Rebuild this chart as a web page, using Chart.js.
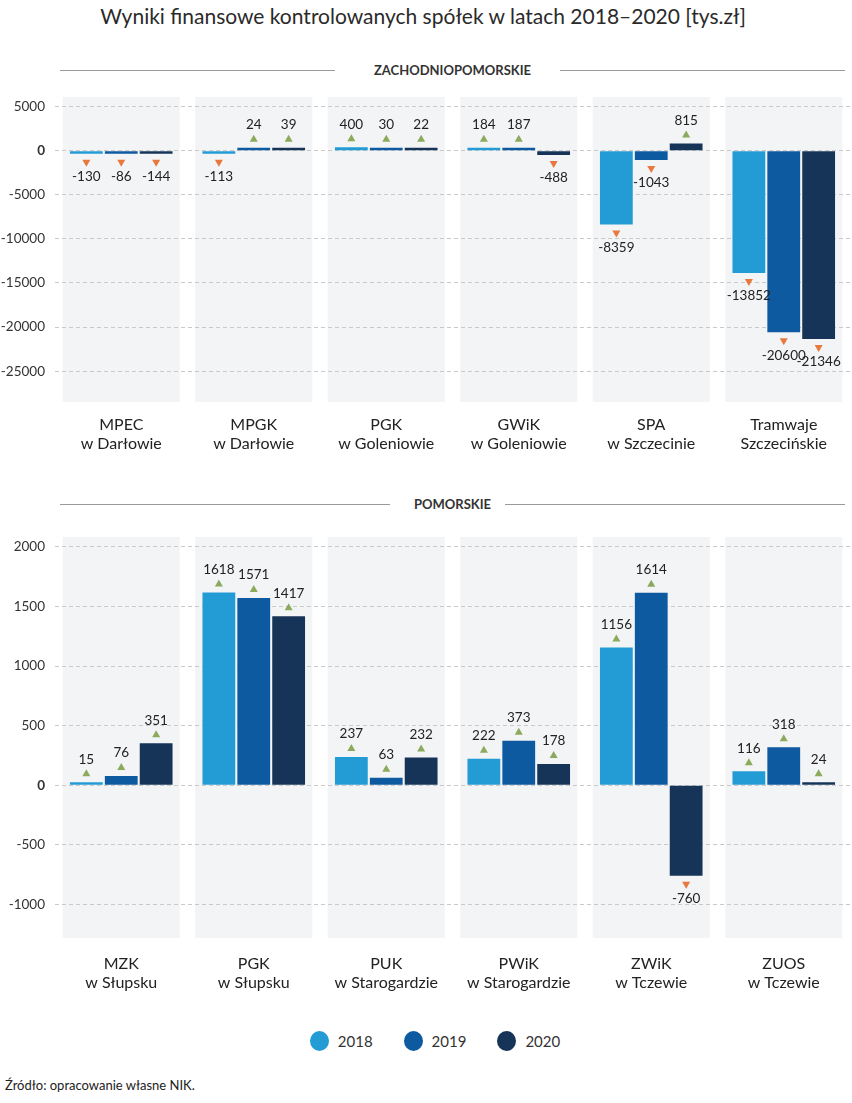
<!DOCTYPE html>
<html lang="pl">
<head>
<meta charset="utf-8">
<script src="https://cdn.jsdelivr.net/npm/chart.js@4.4.1/dist/chart.umd.min.js"></script>
<style>
  html, body { margin: 0; padding: 0; background: #fff; }
  body { width: 852px; height: 1103px; position: relative; font-family: Lato, 'Open Sans', sans-serif; color: #222; }
  .title { position: absolute; top: 3px; left: 0; width: 846px; text-align: center; font-size: 21px; color: #2a2a2a; }
  .section { position: absolute; left: 60px; width: 785px; height: 1px; }
  .section .line { position: absolute; top: 0; height: 1px; background: #9a9a9a; }
  .section span { position: absolute; top: -8px; left: 0; width: 785px; text-align: center; font-size: 13px; font-weight: bold; color: #333; }
  .box { position: absolute; left: 0; width: 852px; }
  .legend { position: absolute; top: 1031px; left: 9px; width: 852px; display: flex; justify-content: center; gap: 31px; font-size: 15px; color: #333; }
  .legend div { display: flex; align-items: center; }
  .legend i { display: inline-block; width: 19px; height: 20px; border-radius: 50%; margin-right: 9px; }
  .source { position: absolute; top: 1077px; left: 5px; font-size: 13px; color: #222; }
</style>
</head>
<body>

<div class="title">Wyniki finansowe kontrolowanych spółek w latach 2018–2020 [tys.zł]</div>

<div class="section" style="top:70px">
  <div class="line" style="left:0;width:275px"></div>
  <div class="line" style="left:500px;width:285px"></div>
  <span>ZACHODNIOPOMORSKIE</span>
</div>
<div class="box" style="top:90px;height:370px"><canvas id="chart-zach"></canvas></div>

<div class="section" style="top:504px">
  <div class="line" style="left:0;width:330px"></div>
  <div class="line" style="left:445px;width:340px"></div>
  <span>POMORSKIE</span>
</div>
<div class="box" style="top:520px;height:480px"><canvas id="chart-pom"></canvas></div>

<div class="legend">
  <div><i style="background:#239cd6"></i>2018</div>
  <div><i style="background:#0e5aa0"></i>2019</div>
  <div><i style="background:#153457"></i>2020</div>
</div>

<div class="source">Źródło: opracowanie własne NIK.</div>

<script>
// dane – województwo zachodniopomorskie
var ZACH_LABELS = [
  ['MPEC', 'w Darłowie'],
  ['MPGK', 'w Darłowie'],
  ['PGK', 'w Goleniowie'],
  ['GWiK', 'w Goleniowie'],
  ['SPA', 'w Szczecinie'],
  ['Tramwaje', 'Szczecińskie'],
];
var ZACH_2018 = [-130, -113, 400, 184, -8359, -13852];
var ZACH_2019 = [-86, 24, 30, 187, -1043, -20600];
var ZACH_2020 = [-144, 39, 22, -488, 815, -21346];
var ZACH_TICKS = [5000, 0, -5000, -10000, -15000, -20000, -25000];

// dane – województwo pomorskie
var POM_LABELS = [
  ['MZK', 'w Słupsku'],
  ['PGK', 'w Słupsku'],
  ['PUK', 'w Starogardzie'],
  ['PWiK', 'w Starogardzie'],
  ['ZWiK', 'w Tczewie'],
  ['ZUOS', 'w Tczewie'],
];
var POM_2018 = [15, 1618, 237, 222, 1156, 116];
var POM_2019 = [76, 1571, 63, 373, 1614, 318];
var POM_2020 = [351, 1417, 232, 178, -760, 24];
var POM_TICKS = [2000, 1500, 1000, 500, 0, -500, -1000];

var YEARS  = ['2018', '2019', '2020'];
var COLORS = ['#239cd6', '#0e5aa0', '#153457'];

/* szare tło pod każdą grupą słupków */
var columnBg = {
  id: 'columnBg',
  beforeDraw: function (chart) {
    var ctx = chart.ctx, area = chart.chartArea, x = chart.scales.x;
    ctx.save();
    ctx.fillStyle = '#f3f4f6';
    for (var i = 0; i < chart.data.labels.length; i++) {
      var cx = x.getPixelForValue(i);
      ctx.fillRect(cx - 58.5, area.top, 117, area.bottom - area.top);
    }
    ctx.restore();
  },
};

/* etykiety wartości z trójkątami */
var valueMarks = {
  id: 'valueMarks',
  afterDatasetsDraw: function (chart) {
    var ctx = chart.ctx;
    ctx.save();
    ctx.font = '13.5px Lato, sans-serif';
    ctx.textAlign = 'center';
    ctx.textBaseline = 'middle';
    chart.data.datasets.forEach(function (ds, di) {
      chart.getDatasetMeta(di).data.forEach(function (bar, i) {
        var v = ds.data[i];
        var up = v >= 0;
        var edge = up ? Math.min(bar.y, bar.base) : Math.max(bar.y, bar.base);
        var ty = up ? edge - 9 : edge + 9;
        ctx.fillStyle = up ? '#8baa5c' : '#e8783d';
        ctx.beginPath();
        if (up) {
          ctx.moveTo(bar.x - 4, ty + 3); ctx.lineTo(bar.x + 4, ty + 3); ctx.lineTo(bar.x, ty - 4);
        } else {
          ctx.moveTo(bar.x - 4, ty - 3); ctx.lineTo(bar.x + 4, ty - 3); ctx.lineTo(bar.x, ty + 4);
        }
        ctx.closePath();
        ctx.fill();
        ctx.fillStyle = '#222';
        ctx.fillText(String(v), bar.x, up ? edge - 23 : edge + 23);
      });
    });
    ctx.restore();
  },
};

function makeChart(id, labels, series, ticks, yMin, yMax, padTop, xHeight, xPad) {
  var canvas = document.getElementById(id);
  return new Chart(canvas, {
    type: 'bar',
    data: {
      labels: labels,
      datasets: series.map(function (s, k) {
        return {
          label:           YEARS[k],
          data:            s,
          backgroundColor: COLORS[k],
          borderWidth:     0,
          minBarLength:    3,
        };
      }),
    },
    options: {
      responsive:          true,
      maintainAspectRatio: false,
      animation:           false,
      categoryPercentage:  0.79,
      barPercentage:       0.94,
      layout: { padding: { top: padTop, right: 2, left: 0, bottom: 0 } },
      plugins: {
        legend:  { display: false },
        tooltip: { enabled: false },
      },
      scales: {
        x: {
          grid:   { display: false, drawTicks: false },
          border: { display: false },
          ticks:  {
            padding: xPad,
            color:   '#222',
            font:    { family: 'Lato', size: 16, lineHeight: 1.15 },
            maxRotation: 0,
            autoSkip: false,
          },
          afterFit: function (scale) { scale.height = xHeight; },
        },
        y: {
          min: yMin,
          max: yMax,
          border: { display: false, dash: [4, 3] },
          grid: {
            color:     '#c9c9c9',
            drawTicks: false,
          },
          ticks: {
            padding: 10,
            color:   '#333',
            callback: function (v) { return String(v); },
            font: function (c) {
              return { family: 'Lato', size: 13.5, weight: c.tick && c.tick.value === 0 ? 'bold' : 'normal' };
            },
          },
          afterBuildTicks: function (scale) {
            scale.ticks = ticks.map(function (v) { return { value: v }; });
          },
          afterFit: function (scale) {
            scale.width = 55;
            scale.paddingTop = 0;
            scale.paddingBottom = 0;
          },
        },
      },
    },
    plugins: [columnBg, valueMarks],
  });
}

makeChart('chart-zach', ZACH_LABELS, [ZACH_2018, ZACH_2019, ZACH_2020], ZACH_TICKS,
  -28500, 6100, 7, 58, 14);
makeChart('chart-pom', POM_LABELS, [POM_2018, POM_2019, POM_2020], POM_TICKS,
  -1283, 2083, 17, 62, 17);
</script>
</body>
</html>
